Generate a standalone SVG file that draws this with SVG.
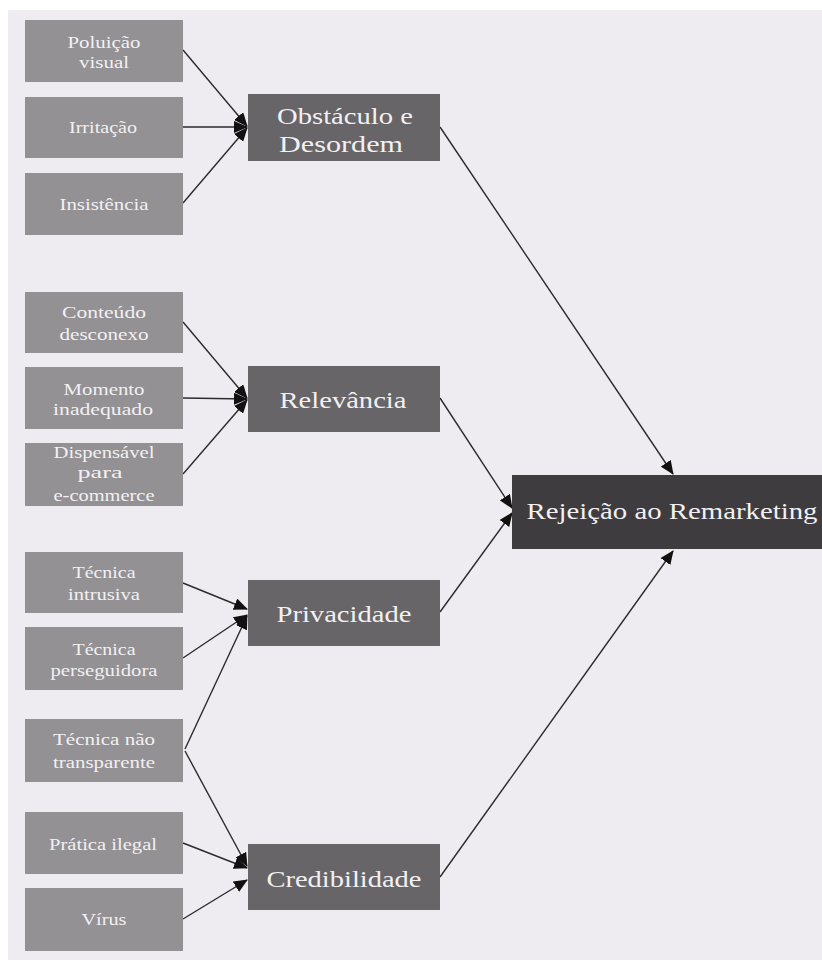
<svg xmlns="http://www.w3.org/2000/svg" width="822" height="961" viewBox="0 0 822 961">
<style>
text{font-family:"Liberation Serif","Times New Roman",serif;fill:#f2f0f2;text-anchor:middle}
.s{font-size:16px}
.m{font-size:23px}
.l{fill:#939194}
.c{fill:#676567}
.r{fill:#3e3c3e}
.e{stroke:#2b2a2c;stroke-width:1.4;fill:none;marker-end:url(#ah)}
</style>
<defs>
<marker id="ah" markerUnits="userSpaceOnUse" markerWidth="14" markerHeight="12" viewBox="0 0 14 12" refX="13" refY="6" orient="auto">
<path d="M0,0 L14,6 L0,12 Z" fill="#111"/>
</marker>
</defs>
<rect x="0" y="0" width="822" height="961" fill="#ffffff"/>
<rect x="8" y="10" width="814" height="950" fill="#eeecf0"/>
<g id="connectors">
<line class="e" x1="183" y1="50" x2="247" y2="126"/>
<line class="e" x1="183" y1="127" x2="247" y2="127"/>
<line class="e" x1="183" y1="203" x2="247" y2="128"/>
<line class="e" x1="183" y1="322" x2="247" y2="398"/>
<line class="e" x1="183" y1="398" x2="247" y2="399"/>
<line class="e" x1="183" y1="474" x2="247" y2="400"/>
<line class="e" x1="183" y1="583" x2="247" y2="609"/>
<line class="e" x1="183" y1="658" x2="247" y2="615"/>
<line class="e" x1="185" y1="749" x2="247" y2="616"/>
<line class="e" x1="185" y1="751" x2="247" y2="866"/>
<line class="e" x1="183" y1="843" x2="247" y2="868"/>
<line class="e" x1="183" y1="919" x2="247" y2="880"/>
<line class="e" x1="440" y1="127" x2="673" y2="474"/>
<line class="e" x1="440" y1="398" x2="512" y2="508"/>
<line class="e" x1="440" y1="612" x2="512" y2="513"/>
<line class="e" x1="440" y1="877" x2="673" y2="551"/>
</g>
<g id="n-poluicao"><rect class="l" x="25" y="20" width="158" height="62"/><text class="s" x="104" y="48" textLength="73" lengthAdjust="spacingAndGlyphs">Poluição</text><text class="s" x="104" y="68" textLength="50" lengthAdjust="spacingAndGlyphs">visual</text></g>
<g id="n-irritacao"><rect class="l" x="25" y="97" width="158" height="61"/><text class="s" x="103" y="133" textLength="68" lengthAdjust="spacingAndGlyphs">Irritação</text></g>
<g id="n-insistencia"><rect class="l" x="25" y="173" width="158" height="62"/><text class="s" x="104" y="210" textLength="89" lengthAdjust="spacingAndGlyphs">Insistência</text></g>
<g id="n-conteudo"><rect class="l" x="25" y="292" width="158" height="61"/><text class="s" x="104" y="318" textLength="84" lengthAdjust="spacingAndGlyphs">Conteúdo</text><text class="s" x="104" y="340" textLength="89" lengthAdjust="spacingAndGlyphs">desconexo</text></g>
<g id="n-momento"><rect class="l" x="25" y="367" width="158" height="62"/><text class="s" x="104" y="395" textLength="81" lengthAdjust="spacingAndGlyphs">Momento</text><text class="s" x="103" y="415" textLength="100" lengthAdjust="spacingAndGlyphs">inadequado</text></g>
<g id="n-dispensavel"><rect class="l" x="25" y="443" width="158" height="63"/><text class="s" x="104" y="458" textLength="101" lengthAdjust="spacingAndGlyphs">Dispensável</text><text class="s" x="100" y="478" textLength="45" lengthAdjust="spacingAndGlyphs">para</text><text class="s" x="104" y="501" textLength="101" lengthAdjust="spacingAndGlyphs">e-commerce</text></g>
<g id="n-intrusiva"><rect class="l" x="25" y="552" width="158" height="61"/><text class="s" x="104" y="578" textLength="63" lengthAdjust="spacingAndGlyphs">Técnica</text><text class="s" x="104" y="600" textLength="72" lengthAdjust="spacingAndGlyphs">intrusiva</text></g>
<g id="n-perseguidora"><rect class="l" x="25" y="627" width="158" height="63"/><text class="s" x="104" y="655" textLength="63" lengthAdjust="spacingAndGlyphs">Técnica</text><text class="s" x="104" y="676" textLength="107" lengthAdjust="spacingAndGlyphs">perseguidora</text></g>
<g id="n-transparente"><rect class="l" x="25" y="719" width="158" height="63"/><text class="s" x="104" y="745" textLength="102" lengthAdjust="spacingAndGlyphs">Técnica não</text><text class="s" x="104" y="768" textLength="102" lengthAdjust="spacingAndGlyphs">transparente</text></g>
<g id="n-ilegal"><rect class="l" x="25" y="812" width="158" height="62"/><text class="s" x="103" y="850" textLength="108" lengthAdjust="spacingAndGlyphs">Prática ilegal</text></g>
<g id="n-virus"><rect class="l" x="25" y="888" width="158" height="63"/><text class="s" x="104" y="925" textLength="45" lengthAdjust="spacingAndGlyphs">Vírus</text></g>
<g id="n-obstaculo"><rect class="c" x="248" y="94" width="192" height="67"/><text class="m" x="345" y="124" textLength="136" lengthAdjust="spacingAndGlyphs">Obstáculo e</text><text class="m" x="341" y="152" textLength="124" lengthAdjust="spacingAndGlyphs">Desordem</text></g>
<g id="n-relevancia"><rect class="c" x="248" y="366" width="192" height="66"/><text class="m" x="343" y="408" textLength="127" lengthAdjust="spacingAndGlyphs">Relevância</text></g>
<g id="n-privacidade"><rect class="c" x="248" y="580" width="192" height="66"/><text class="m" x="344" y="622" textLength="135" lengthAdjust="spacingAndGlyphs">Privacidade</text></g>
<g id="n-credibilidade"><rect class="c" x="248" y="844" width="192" height="66"/><text class="m" x="344" y="887" textLength="155" lengthAdjust="spacingAndGlyphs">Credibilidade</text></g>
<g id="n-rejeicao"><rect class="r" x="512" y="475" width="310" height="74"/><text class="m" x="672" y="519" textLength="291" lengthAdjust="spacingAndGlyphs">Rejeição ao Remarketing</text></g>
</svg>
